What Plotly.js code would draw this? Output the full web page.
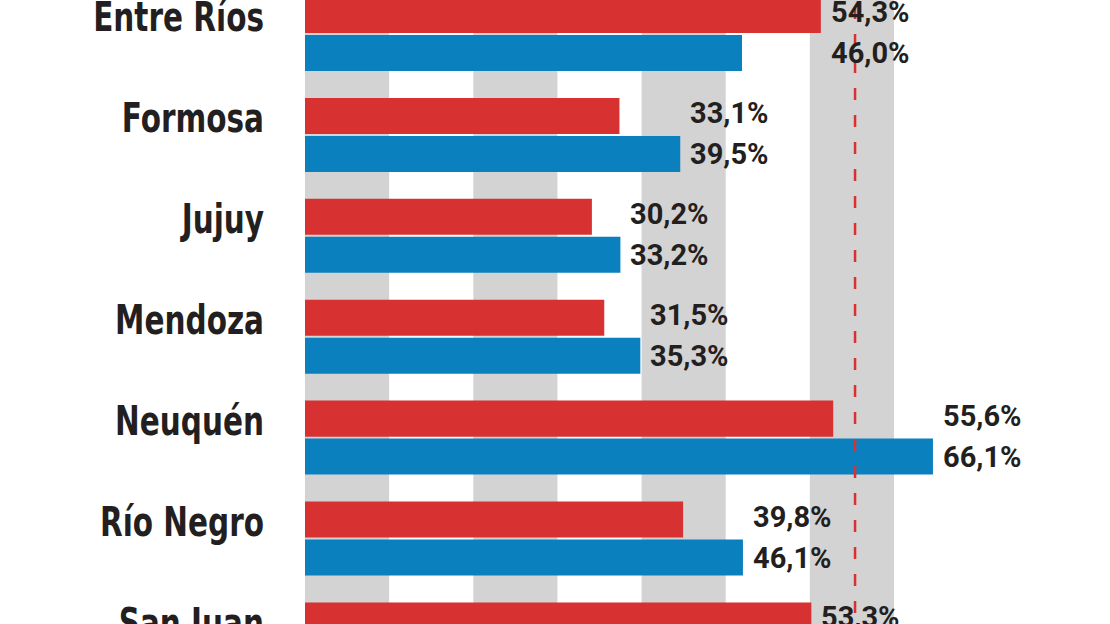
<!DOCTYPE html>
<html>
<head>
<meta charset="utf-8">
<script src="https://cdn.plot.ly/plotly-3.0.1.min.js"></script>
<style>
  html, body { margin: 0; padding: 0; background: #ffffff; overflow: hidden; }
  #frame { position: relative; width: 1110px; height: 624px; overflow: hidden; }
  #chart { position: absolute; left: 0; top: -70px; width: 1110px; height: 764px; }
</style>
</head>
<body>
<div id="frame"><div id="chart"></div></div>
<script>
// Data
const provinces = ["Entre Ríos", "Formosa", "Jujuy", "Mendoza", "Neuquén", "Río Negro", "San Juan"];
const redValues = [54.3, 33.1, 30.2, 31.5, 55.6, 39.8, 53.3];
const blueValues = [46.0, 39.5, 33.2, 35.3, 66.1, 46.1, null];
const referenceValue = 57.9;

const fmt = v => v.toFixed(1).replace('.', ',') + '%';

const RED = '#d83131';
const BLUE = '#0b80bf';
const GRAY = '#d3d3d3';
const TXT = '#231f20';

const traces = [
  { type: 'bar', orientation: 'h', name: 'red', y: provinces, x: redValues,
    marker: { color: RED }, hoverinfo: 'none' },
  { type: 'bar', orientation: 'h', name: 'blue', y: provinces, x: blueValues,
    marker: { color: BLUE }, hoverinfo: 'none' }
];

// background bands
const bandW = 62 / 7;
const shapes = [];
for (let k = 0; k < 4; k++) {
  shapes.push({ type: 'rect', xref: 'x', yref: 'paper', x0: 2 * k * bandW, x1: (2 * k + 1) * bandW,
    y0: 0, y1: 1, fillcolor: GRAY, line: { width: 0 }, layer: 'below' });
}
shapes.push({ type: 'line', xref: 'x', yref: 'paper', x0: referenceValue, x1: referenceValue, y0: 0, y1: 1,
  line: { color: RED, width: 2.5, dash: '12px,15px' }, layer: 'above' });

const valFont = { family: 'Roboto, sans-serif', size: 29, color: TXT, weight: 700 };
const annotations = [];
provinces.forEach((p, i) => {
  const r = redValues[i], b = blueValues[i];
  const mx = Math.max(r, b == null ? 0 : b);
  if (r != null) annotations.push({ xref: 'x', yref: 'y', x: mx, y: p, text: fmt(r), showarrow: false,
    xanchor: 'left', yanchor: 'middle', xshift: 8, yshift: 22, font: valFont });
  if (b != null) annotations.push({ xref: 'x', yref: 'y', x: mx, y: p, text: fmt(b), showarrow: false,
    xanchor: 'left', yanchor: 'middle', xshift: 8, yshift: -19, font: valFont });
});

const layout = {
  width: 1110, height: 764,
  margin: { l: 305, r: 0, t: 0, b: 0 },
  paper_bgcolor: '#ffffff', plot_bgcolor: '#ffffff',
  showlegend: false,
  barmode: 'group', bargap: 0.247, bargroupgap: 0.052,
  xaxis: { range: [0, 805 / 9.5], showgrid: false, zeroline: false, showticklabels: false, visible: false },
  yaxis: { type: 'category', range: [6.541, -1.031], showgrid: false, zeroline: false,
    showline: false, ticks: '', ticklabelstandoff: 40, ticklabelshift: 17,
    tickfont: { family: '"DejaVu Sans Condensed", "DejaVu Sans", sans-serif', size: 41, color: TXT, weight: 700 } },
  shapes: shapes,
  annotations: annotations
};

Plotly.newPlot('chart', traces, layout, { staticPlot: true, displayModeBar: false }).then(() => {
  // narrow the category labels to approximate the condensed typeface
  document.querySelectorAll('#chart .ytick text').forEach(t => {
    const w = t.getComputedTextLength();
    t.setAttribute('textLength', (w * 0.80).toFixed(1));
    t.setAttribute('lengthAdjust', 'spacingAndGlyphs');
  });
});
</script>
</body>
</html>
